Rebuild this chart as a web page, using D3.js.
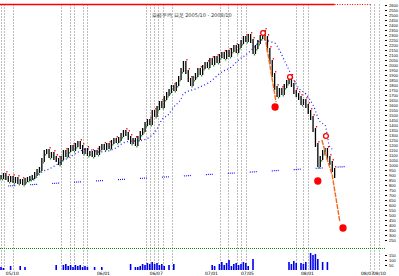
<!DOCTYPE html>
<html lang="ja">
<head>
  <meta charset="UTF-8">
  <title>chart</title>
  <script src="https://d3js.org/d3.v7.min.js"></script>
  <style>
    body { margin: 0; background: #fff; }
    svg { display: block; font-family: "DejaVu Sans", sans-serif; }
  </style>
</head>
<body>
  <div id="chart"></div>
  <script>
    // 終値 (日足)
    const closes = [
      880, 900, 870, 850, 870, 840, 860, 830, 840, 820,
      850, 860, 870, 880, 910, 940, 960, 1050, 1130, 1140,
      1090, 1110, 1070, 1050, 1020, 1070, 1130, 1100, 1150, 1180,
      1160, 1200, 1220, 1180, 1130, 1150, 1110, 1120, 1100, 1130,
      1120, 1170, 1190, 1170, 1200, 1180, 1230, 1250, 1240, 1260,
      1300, 1330, 1310, 1270, 1230, 1250, 1210, 1270, 1320, 1350,
      1410, 1440, 1420, 1530, 1500, 1570, 1620, 1590, 1670, 1710,
      1740, 1780, 1760, 1810, 1870, 1950, 2020, 1930, 1850, 1810,
      1870, 1900, 1950, 1920, 1980, 2010, 1990, 2050, 2020, 2070,
      2040, 2090, 2110, 2080, 2130, 2100, 2150, 2180, 2140, 2190,
      2230, 2270, 2250, 2290, 2240, 2130, 2180, 2230, 2280, 2330,
      2270, 2150, 2030, 1900, 1770, 1700, 1750, 1720, 1790, 1830,
      1870, 1800, 1730, 1700, 1670, 1620, 1640, 1590, 1530, 1470,
      1350, 1200, 1000, 1070, 1130, 1150, 1070, 1020, 950, 890
    ];

    // 移動平均 [日, 値]
    const maPoints = [
      [12, 850], [15, 880], [17, 930], [20, 960], [25, 1030], [30, 1100],
      [34, 1150], [36, 1160], [41, 1130], [47, 1160], [52, 1230], [59, 1250],
      [62, 1280], [65, 1360], [67, 1450], [70, 1510], [72, 1580], [75, 1660],
      [76, 1710], [82, 1770], [87, 1830], [92, 1930], [96, 1980], [99, 2050],
      [103, 2120], [107, 2220], [108, 2250], [114, 2220], [116, 2150], [118, 2050],
      [120, 1950], [122, 1850], [124, 1770], [127, 1710], [130, 1600], [133, 1430],
      [135, 1400], [137, 1180], [139, 1150]
    ];

    // サポートライン
    const supportLine = [[3, 790], [148, 990]];

    // 下落ライン
    const fallLine1 = [[109.6, 2350], [112, 2000], [114.6, 1630]];
    const fallLine2 = [[133.7, 1250], [136, 1050], [138, 900], [141.2, 430]];

    // シグナル [日, 値, 塗り]
    const signals = [
      [109.2, 2320, false], [114.2, 1580, true], [120.4, 1880, false],
      [132, 840, true], [135.4, 1290, false], [142.5, 370, true]
    ];

    // 出来高
    const volumes = [
      30, 20, 0, 0, 40, 0, 0, 0, 40, 0,
      30, 0, 0, 0, 0, 0, 0, 0, 0, 0,
      0, 0, 0, 50, 0, 0, 50, 60, 40, 50,
      30, 50, 40, 50, 30, 40, 30, 0, 0, 30,
      0, 0, 30, 0, 0, 0, 0, 0, 0, 0,
      0, 0, 0, 0, 60, 0, 30, 30, 40, 60,
      50, 70, 60, 80, 60, 70, 50, 60, 40, 0,
      50, 0, 60, 0, 0, 0, 0, 0, 0, 0,
      0, 0, 0, 0, 0, 0, 0, 0, 50, 40,
      0, 60, 80, 50, 70, 100, 40, 60, 70, 50,
      60, 80, 70, 40, 0, 110, 0, 0, 0, 0,
      0, 0, 0, 0, 0, 0, 0, 0, 0, 0,
      80, 60, 90, 70, 0, 70, 60, 80, 0, 170,
      150, 160, 110, 0, 80, 0, 80, 0, 0, 0
    ];

    // イベント日 (縦の点線)
    const eventDays = [
      0, 1.2, 5, 25, 28.7, 30.4, 34.2, 35.8, 60.4, 62.1, 63.7, 65.4, 67.5,
      71.2, 91.2, 94.6, 98.3, 100, 102.1, 122.9, 125.8, 127.9, 153.7, 155.4, 157.5
    ];

    const priceTicks = [
      2600, 2550, 2500, 2450, 2400, 2350, 2300, 2250, 2200, 2150, 2100, 2050,
      2000, 1950, 1900, 1850, 1800, 1750, 1700, 1650, 1600, 1550, 1500, 1450,
      1400, 1350, 1300, 1250, 1200, 1150, 1100, 1050, 1000, 950, 900, 850,
      800, 750, 700, 650, 600, 550, 500, 450, 400, 350, 300, 250
    ];
    const volumeTicks = [150, 100, 50];

    const dateLabels = [
      [2, "05/10"], [40, "06/01"], [62, "06/07"], [85, "07/01"],
      [100, "07/05"], [125, "08/01"], [150, "08/07"], [155, "08/10"]
    ];

    const title = "日経平均 日足 2005/10 - 2008/10";

    const width = 399, height = 276;

    const svg = d3.select("#chart")
      .append("svg")
      .attr("width", width)
      .attr("height", height);

    const x = d3.scaleLinear().domain([0, 160]).range([1, 385]);
    const y = d3.scaleLinear().domain([200, 2600]).range([245, 5]);
    const yVol = d3.scaleLinear().domain([0, 200]).range([270, 250]);

    // イベント日の縦線
    svg.append("g")
      .selectAll("line")
      .data(eventDays)
      .enter()
      .append("line")
      .attr("x1", d => Math.round(x(d)) + 0.5)
      .attr("x2", d => Math.round(x(d)) + 0.5)
      .attr("y1", 4)
      .attr("y2", 271)
      .attr("stroke", "#bdbdbd")
      .attr("stroke-width", 1)
      .attr("stroke-dasharray", "2,1");

    // 上部の赤線
    svg.append("line")
      .attr("x1", 0).attr("x2", x(139))
      .attr("y1", 4.5).attr("y2", 4.5)
      .attr("stroke", "#f00").attr("stroke-width", 1.6);
    svg.append("line")
      .attr("x1", x(139)).attr("x2", x(154))
      .attr("y1", 4.5).attr("y2", 4.5)
      .attr("stroke", "#f00").attr("stroke-width", 1)
      .attr("stroke-dasharray", "1,1.5");

    svg.append("text")
      .attr("x", 152).attr("y", 17)
      .style("font-size", "5px")
      .attr("fill", "#333")
      .text(title);

    // サポートライン
    svg.append("path")
      .datum(supportLine)
      .attr("fill", "none")
      .attr("stroke", "#1a1aff")
      .attr("stroke-width", 1.2)
      .attr("stroke-dasharray", "1,1,1,1,1,1,1,15")
      .attr("d", d3.line().x(d => x(d[0])).y(d => y(d[1])));

    // 移動平均
    svg.append("path")
      .datum(maPoints)
      .attr("fill", "none")
      .attr("stroke", "#1a1aff")
      .attr("stroke-width", 1.2)
      .attr("stroke-dasharray", "1,2.5")
      .attr("d", d3.line().curve(d3.curveMonotoneX).x(d => x(d[0])).y(d => y(d[1])));

    // ローソク足
    const candles = closes.map((c, i) => ({
      i, close: c, open: i === 0 ? c : closes[i - 1]
    }));

    const cg = svg.append("g");
    cg.selectAll("rect")
      .data(candles)
      .enter()
      .append("rect")
      .attr("x", d => x(d.i) - 0.6)
      .attr("width", 1.3)
      .attr("y", d => y(Math.max(d.open, d.close)) - 2)
      .attr("height", d => Math.abs(y(d.open) - y(d.close)) + 4)
      .attr("fill", "#000");

    cg.selectAll(".sig")
      .data(candles)
      .enter()
      .append("rect")
      .attr("x", d => x(d.i) + (d.close >= d.open ? -1.5 : 0.5))
      .attr("width", 1.2)
      .attr("y", d => d.close >= d.open
        ? y(Math.min(d.open, d.close)) + 2
        : y(Math.max(d.open, d.close)) - 4)
      .attr("height", 1.5)
      .attr("fill", d => d.close >= d.open ? "#1a9a1a" : "#f00");

    // 下落ライン
    [fallLine1, fallLine2].forEach(pts => {
      svg.append("path")
        .datum(pts)
        .attr("fill", "none")
        .attr("stroke", "#f26a1b")
        .attr("stroke-width", 1.4)
        .attr("stroke-dasharray", "5,1")
        .attr("d", d3.line().x(d => x(d[0])).y(d => y(d[1])));
    });

    // シグナル
    svg.append("g")
      .selectAll("circle")
      .data(signals)
      .enter()
      .append("circle")
      .attr("cx", d => x(d[0]))
      .attr("cy", d => y(d[1]))
      .attr("r", d => d[2] ? 3 : 2.4)
      .attr("fill", d => d[2] ? "#f00" : "#fff")
      .attr("stroke", "#f00")
      .attr("stroke-width", 1.3);

    // 区切りの緑点線
    svg.append("line")
      .attr("x1", 0).attr("x2", 385)
      .attr("y1", 248.5).attr("y2", 248.5)
      .attr("stroke", "#0a8a0a")
      .attr("stroke-width", 1)
      .attr("stroke-dasharray", "1,1");

    // 出来高
    svg.append("g")
      .selectAll("rect")
      .data(volumes.map((v, i) => ({ i, v })).filter(d => d.v > 0))
      .enter()
      .append("rect")
      .attr("x", d => x(d.i) - 0.8)
      .attr("width", 1.6)
      .attr("y", d => yVol(d.v))
      .attr("height", d => yVol(0) - yVol(d.v))
      .attr("fill", "#0000ee");

    // 右軸
    svg.append("g")
      .attr("transform", "translate(385,0)")
      .call(d3.axisRight(y).tickValues(priceTicks).tickSize(2).tickPadding(2)
        .tickFormat(d3.format("d")))
      .call(g => g.select(".domain").remove())
      .call(g => g.selectAll("text").style("font-size", "4px").attr("fill", "#000"));

    svg.append("g")
      .attr("transform", "translate(385,0)")
      .call(d3.axisRight(yVol).tickValues(volumeTicks).tickSize(2).tickPadding(2))
      .call(g => g.select(".domain").remove())
      .call(g => g.selectAll("text").style("font-size", "4px").attr("fill", "#000"));

    // 日付
    svg.append("g")
      .selectAll("text")
      .data(dateLabels)
      .enter()
      .append("text")
      .attr("x", d => x(d[0]))
      .attr("y", 275)
      .style("font-size", "4.5px")
      .attr("fill", "#000")
      .text(d => d[1]);
  </script>
</body>
</html>
